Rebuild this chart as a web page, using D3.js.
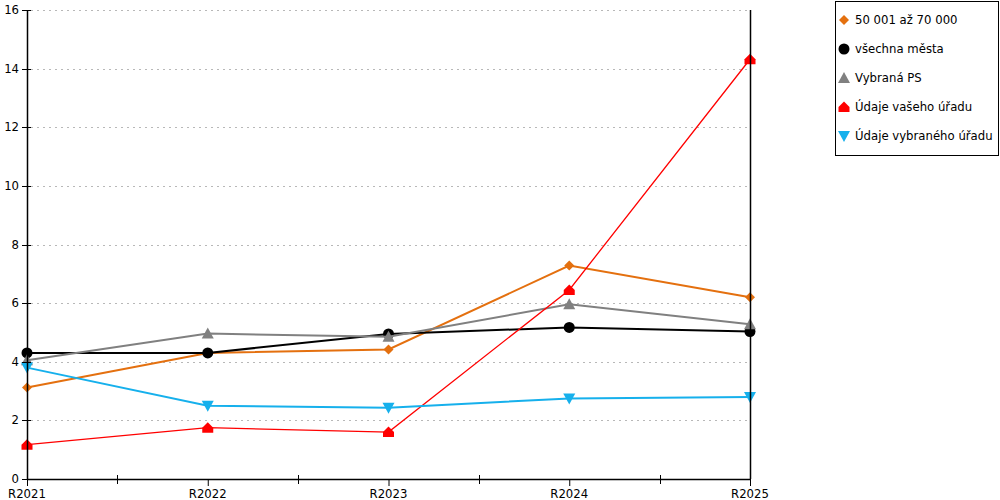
<!DOCTYPE html>
<html>
<head>
<meta charset="utf-8">
<script src="https://cdn.jsdelivr.net/npm/d3@7"></script>
<style>
  body { margin: 0; background: #fff; }
  svg { font-family: "DejaVu Sans", Verdana, sans-serif; }
</style>
</head>
<body>
<div id="chart"></div>
<script>
// data
const years = ["R2021", "R2022", "R2023", "R2024", "R2025"];
const yTicks = [0, 2, 4, 6, 8, 10, 12, 14, 16];

const orangeVals = [3.12, 4.3, 4.42, 7.28, 6.2];
const blackVals  = [4.3, 4.3, 4.95, 5.17, 5.03];
const grayVals   = [4.05, 4.96, 4.85, 5.96, 5.28];
const redVals    = [1.17, 1.75, 1.6, 6.45, 14.32];
const blueVals   = [3.8, 2.5, 2.43, 2.75, 2.8];

const seriesNames = ["50 001 až 70 000", "všechna města", "Vybraná PS", "Údaje vašeho úřadu", "Údaje vybraného úřadu"];

const series = [
  { name: seriesNames[0], values: orangeVals, color: "#e4700f", width: 2, shape: "diamond" },
  { name: seriesNames[1], values: blackVals,  color: "#000000", width: 2, shape: "circle" },
  { name: seriesNames[2], values: grayVals,   color: "#808080", width: 2, shape: "up" },
  { name: seriesNames[3], values: redVals,    color: "#ff0000", width: 1.3, shape: "house" },
  { name: seriesNames[4], values: blueVals,   color: "#16b0ec", width: 2, shape: "down" }
];

const W = 1000, H = 500;
const plotL = 27, plotR = 750, plotT = 10, plotB = 479;
const fontSize = "11.7px";

const svg = d3.select("#chart").append("svg")
  .attr("width", W).attr("height", H);

const x = d3.scalePoint().domain(years).range([plotL, plotR]);
const y = d3.scaleLinear().domain([0, 16]).range([plotB, plotT]);

// grid
svg.append("g")
  .selectAll("line")
  .data(yTicks.filter(d => d > 0))
  .enter().append("line")
  .attr("x1", plotL + 4).attr("x2", plotR - 3)
  .attr("y1", d => Math.round(y(d)) + 0.5).attr("y2", d => Math.round(y(d)) + 0.5)
  .attr("stroke", "#b8b8b8")
  .attr("stroke-dasharray", "2,4");

function markerPath(shape) {
  switch (shape) {
    case "diamond": return "M0,-5L5,0L0,5L-5,0Z";
    case "circle": return d3.symbol(d3.symbolCircle, 95)();
    case "up": return "M0,-6L6,5L-6,5Z";
    case "down": return "M0,6L6,-5L-6,-5Z";
    case "house": return "M-5.5,5L5.5,5L5.5,0L0,-5.5L-5.5,0Z";
  }
}

const line = d3.line().x((d, i) => x(years[i])).y(d => y(d));

series.forEach(s => {
  const g = svg.append("g");
  g.append("path")
    .datum(s.values)
    .attr("d", line)
    .attr("fill", "none")
    .attr("stroke", s.color)
    .attr("stroke-width", s.width);
  g.selectAll("path.mk")
    .data(s.values)
    .enter().append("path")
    .attr("class", "mk")
    .attr("transform", (d, i) => `translate(${x(years[i])},${y(d)})`)
    .attr("d", markerPath(s.shape))
    .attr("fill", s.color);
});

// axes
const yAxis = svg.append("g");
yAxis.append("line")
  .attr("x1", plotL + 0.5).attr("x2", plotL + 0.5)
  .attr("y1", plotT).attr("y2", plotB)
  .attr("stroke", "#000").attr("stroke-width", 1.5);
yAxis.selectAll("line.tk")
  .data(yTicks)
  .enter().append("line")
  .attr("class", "tk")
  .attr("x1", plotL - 5).attr("x2", plotL + 4)
  .attr("y1", d => Math.round(y(d)) + 0.5).attr("y2", d => Math.round(y(d)) + 0.5)
  .attr("stroke", "#000");
yAxis.selectAll("text")
  .data(yTicks)
  .enter().append("text")
  .attr("x", plotL - 8)
  .attr("y", d => y(d) + 4)
  .attr("text-anchor", "end")
  .style("font-size", fontSize)
  .text(d => d);

// right border line
svg.append("line")
  .attr("x1", plotR + 0.5).attr("x2", plotR + 0.5)
  .attr("y1", plotT).attr("y2", plotB)
  .attr("stroke", "#000").attr("stroke-width", 1.5);

const xAxis = svg.append("g");
xAxis.append("line")
  .attr("x1", plotL).attr("x2", plotR + 1)
  .attr("y1", plotB + 0.5).attr("y2", plotB + 0.5)
  .attr("stroke", "#000").attr("stroke-width", 1.5);
const minor = years.slice(1).map((d, i) => (x(years[i]) + x(d)) / 2);
xAxis.selectAll("line.mn")
  .data(minor)
  .enter().append("line")
  .attr("class", "mn")
  .attr("x1", d => Math.round(d) + 0.5).attr("x2", d => Math.round(d) + 0.5)
  .attr("y1", plotB - 4).attr("y2", plotB + 5)
  .attr("stroke", "#000");
xAxis.selectAll("line.mj")
  .data(years)
  .enter().append("line")
  .attr("class", "mj")
  .attr("x1", d => x(d) + 0.5).attr("x2", d => x(d) + 0.5)
  .attr("y1", plotB).attr("y2", plotB + 7)
  .attr("stroke", "#000");
xAxis.selectAll("text")
  .data(years)
  .enter().append("text")
  .attr("x", d => x(d))
  .attr("y", plotB + 19)
  .attr("text-anchor", "middle")
  .style("font-size", fontSize)
  .text(d => d);

// legend
const lg = svg.append("g").attr("transform", "translate(835,1)");
lg.append("rect")
  .attr("x", 0.5).attr("y", 0.5)
  .attr("width", 163).attr("height", 154)
  .attr("fill", "#fff").attr("stroke", "#000");
series.forEach((s, i) => {
  const yy = 19 + i * 29;
  lg.append("path")
    .attr("transform", `translate(9,${yy})`)
    .attr("d", markerPath(s.shape))
    .attr("fill", s.color);
  lg.append("text")
    .attr("x", 20)
    .attr("y", yy + 4)
    .style("font-size", fontSize)
    .text(s.name);
});
</script>
</body>
</html>
